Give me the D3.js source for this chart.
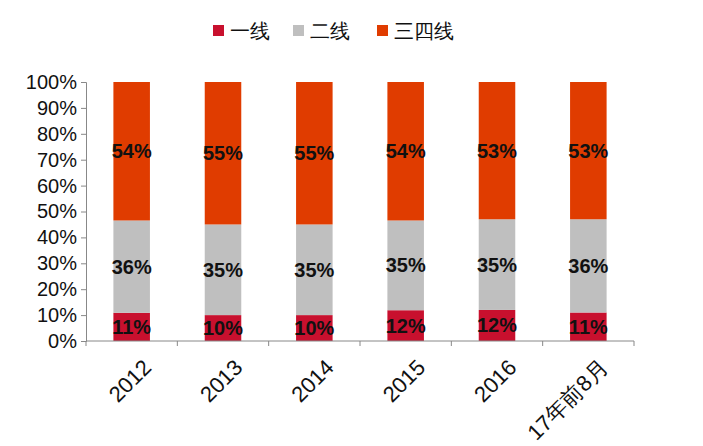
<!DOCTYPE html>
<html><head><meta charset="utf-8">
<script src="https://cdn.jsdelivr.net/npm/d3@7"></script>
<style>body{margin:0;background:#fff}text{font-family:Arial,"Liberation Sans",sans-serif}</style>
</head><body><div id="chart"></div>
<script>
const categories = ["2012","2013","2014","2015","2016","17年前8月"];
const tier1 = [11,10,10,12,12,11];
const tier2 = [36,35,35,35,35,36];
const tier34 = [54,55,55,54,53,53];
const seriesNames = ["一线","二线","三四线"];
const colors = ["#c8102e","#bfbfbf","#e03c00"];
const yTicks = [0,10,20,30,40,50,60,70,80,90,100];

const W = 703, H = 446;
const svg = d3.select("#chart").append("svg").attr("width",W).attr("height",H);

const x = d3.scaleBand().domain(categories).range([86,634]).paddingInner(0.6).paddingOuter(0.3);
const y = d3.scaleLinear().domain([0,100]).range([341,82]);

const rows = categories.map((c,i) => {
  const vals = [tier1[i],tier2[i],tier34[i]];
  const s = d3.sum(vals);
  return {cat:c, vals, norm: vals.map(v => v/s*100)};
});

rows.forEach(r => {
  let acc = 0;
  r.norm.forEach((v,k) => {
    const y0 = acc, y1 = acc + v; acc = y1;
    svg.append("rect").attr("x",x(r.cat)).attr("width",x.bandwidth())
      .attr("y",y(y1)).attr("height",y(y0)-y(y1)).attr("fill",colors[k]);
    svg.append("text").attr("x",x(r.cat)+x.bandwidth()/2).attr("y",(y(y0)+y(y1))/2+7)
      .attr("text-anchor","middle").attr("font-size",20).attr("font-weight","bold")
      .attr("fill","#111").text(r.vals[k]+"%");
  });
});

// y axis
const ya = svg.append("g").attr("transform","translate(86,0)")
  .call(d3.axisLeft(y).tickValues(yTicks).tickFormat(d => d+"%").tickSize(5));
ya.selectAll("text").attr("font-size",20).attr("fill","#111").attr("dx","-1");
ya.selectAll("line,path").attr("stroke","#888");

// x axis
const boundaries = d3.range(categories.length+1).map(i => 86 + i*(634-86)/categories.length);
svg.append("line").attr("x1",86).attr("x2",634).attr("y1",341).attr("y2",341).attr("stroke","#888");
boundaries.forEach(b => svg.append("line").attr("x1",b).attr("x2",b).attr("y1",341).attr("y2",346).attr("stroke","#888"));
categories.forEach(c => {
  const cx = x(c)+x.bandwidth()/2 + 10;
  svg.append("text").attr("transform",`translate(${cx},358) rotate(-45)`)
    .attr("text-anchor","end").attr("font-size",22).attr("fill","#111")
    .attr("dy","0.7em").text(c);
});

// legend
const lx = [213,293,377];
seriesNames.forEach((n,k) => {
  svg.append("rect").attr("x",lx[k]).attr("y",25).attr("width",11).attr("height",11).attr("fill",colors[k]);
  svg.append("text").attr("x",lx[k]+17).attr("y",38).attr("font-size",20)
    .attr("font-family","'Noto Sans CJK SC',sans-serif").attr("fill","#111").text(n);
});
</script></body></html>
